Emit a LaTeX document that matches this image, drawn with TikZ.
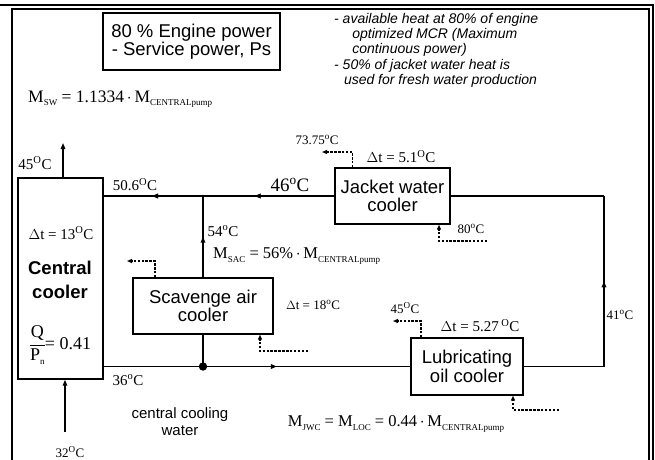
\documentclass[tikz,border=0pt]{standalone}
\usepackage{fontspec}
\setmainfont{Liberation Serif}
\setsansfont{Liberation Sans}
\usetikzlibrary{arrows.meta,decorations.markings}
\newcommand\myfs[1]{\fontsize{#1}{#1}\selectfont}
\newcommand\mysub[1]{\raisebox{-0.45ex}{\fontsize{9}{9}\selectfont #1}}
\newcommand\dgo{\textsuperscript{o}}
\newcommand\dgO{\textsuperscript{O}}
\begin{document}
\begin{tikzpicture}[x=1pt,y=-1pt,
  pipe/.style={line width=1.4pt},
  boxnode/.style={draw, line width=1.4pt, font=\sffamily\myfs{18.5}, align=center, inner sep=0pt},
  dsh/.style={line width=1.2pt, dash pattern=on 2.5pt off 1.4pt, -{Triangle[length=5pt,width=4pt]}},
  midarrow/.style={postaction=decorate, decoration={markings, mark=at position #1 with {\arrow{Triangle[length=6pt,width=4.5pt]}}}},
  lab/.style={font=\myfs{15}, inner sep=0pt},
  slab/.style={font=\myfs{13}, inner sep=0pt}]
\useasboundingbox (0,0) rectangle (655,459);
% frame
\draw[line width=2pt] (0,5) -- (653,5) -- (653,470);
\draw[line width=2pt] (12,470) -- (12,9) -- (648.5,9) -- (648.5,470);
% title and notes
\node[boxnode, minimum width=177pt, minimum height=57pt] (title) at (191.5,41.5) {80 \% Engine power\\- Service power, Ps};
\node[anchor=north west, font=\sffamily\itshape\myfs{14}, align=left, inner sep=0pt] (notes) at (334,13) {- available heat at 80\% of engine\\[1.3pt]\hspace*{1.3em}optimized MCR (Maximum\\[1.3pt]\hspace*{1.3em}continuous power)\\[1.3pt]- 50\% of jacket water heat is\\[1.3pt]\hspace*{0.7em}used for fresh water production};
% coolers
\node[boxnode, minimum width=85pt, minimum height=201pt] (cc) at (60.5,278.5) {};
\node[boxnode, minimum width=115pt, minimum height=56pt] (jwc) at (392.5,196) {Jacket water\\cooler};
\node[boxnode, minimum width=140pt, minimum height=56pt] (sac) at (203,306) {Scavenge air\\cooler};
\node[boxnode, minimum width=112pt, minimum height=57pt] (loc) at (467,366.5) {Lubricating\\oil cooler};
% coordinates
\coordinate (jt) at (sac.north |- jwc.west);
\coordinate (jb) at (sac.south |- loc.west);
\coordinate (rc1) at (604,196);
\coordinate (rc2) at (604,366.5);
\coordinate (swout) at (63,143);
\coordinate (swin) at (65,432);
% pipes
\draw[pipe, midarrow=0.345, midarrow=0.79] (jwc.west) -- (cc.east |- jwc.west);
\draw[pipe, midarrow=0.5] (sac.north) -- (jt);
\draw[pipe, midarrow=0.565] (cc.east |- loc.west) -- (loc.west);
\draw[pipe] (sac.south) -- (jb);
\fill (jb) circle (4.2pt);
\fill (jt) circle (1.5pt);
\draw[pipe] (loc.east) -- (rc2);
\draw[pipe, midarrow=0.5] (rc2) -- (rc1);
\draw[pipe] (rc1) -- (jwc.east);
\draw[pipe, -{Triangle[length=6pt,width=4.5pt]}] (swout |- cc.north) -- (swout);
\draw[pipe, -{Triangle[length=6pt,width=4.5pt]}] (swin) -- (swin |- cc.south);
% dashed secondary flows
\coordinate (sa1) at (127,261);
\coordinate (sa2) at (308,351);
\coordinate (jw1) at (322,152);
\coordinate (jw2) at (487,241);
\coordinate (lo1) at (393,321);
\coordinate (lo2) at (559,410);
\draw[dsh] ([xshift=-48pt]sac.north) |- (sa1);
\draw[dsh] (sa2) -| ([xshift=57pt]sac.south);
\draw[dsh] ([xshift=-40pt]jwc.north) |- (jw1);
\draw[dsh] (jw2) -| ([xshift=46.5pt]jwc.south);
\draw[dsh] ([xshift=-46pt]loc.north) |- (lo1);
\draw[dsh] (lo2) -| ([xshift=46pt]loc.south);
% labels
\node[font=\myfs{17.5}, inner sep=0pt, anchor=west] (msw) at (28,99) {M\mysub{SW} = 1.1334\,$\cdot$\,M\mysub{CENTRALpump}};
\node[lab] (t45) at (35,163) {45\dgO C};
\node[lab] (t506) at (135,185) {50.6\dgO C};
\node[font=\myfs{19}, inner sep=0pt] (t46) at (290,185) {46\dgo C};
\node[slab] (t7375) at (317,140) {73.75\dgo C};
\node[lab] (dt51) at (401,157) {$\Delta$t = 5.1\dgO C};
\node[slab] (t80) at (471,229) {80\dgo C};
\node[lab] (t54) at (223,231) {54\dgo C};
\node[font=\myfs{16.5}, inner sep=0pt, anchor=west] (msac) at (213,256) {M\mysub{SAC} = 56\%\,$\cdot$\,M\mysub{CENTRALpump}};
\node[lab] (dt13) at (61,233) {$\Delta$t = 13\dgO C};
\node[font=\sffamily\bfseries\myfs{18.5}, align=center, inner sep=0pt] (ccname) at (60,280) {Central\\[5pt]cooler};
\node[font=\myfs{18}, inner sep=0pt] (qpn) at (60,345) {$\displaystyle\frac{\textrm{Q}}{\textrm{P\mysub{n}}}$\kern-1pt= 0.41};
\node[slab] (dt18) at (313,305) {$\Delta$t = 18\dgo C};
\node[lab] (t36) at (128,380) {36\dgo C};
\node[font=\sffamily\myfs{15}, align=center, inner sep=0pt] (ccw) at (180,422) {central cooling\\[2pt]water};
\node[slab] (t32) at (70,452) {32\dgO C};
\node[slab] (t45b) at (405,308) {45\dgO C};
\node[lab] (dt527) at (480,326) {$\Delta$t = 5.27\,\dgO C};
\node[slab] (t41) at (620,315) {41\dgo C};
\node[font=\myfs{16.5}, inner sep=0pt] (mjwc) at (396,424) {M\mysub{JWC} = M\mysub{LOC} = 0.44\,$\cdot$\,M\mysub{CENTRALpump}};
\end{tikzpicture}
\end{document}
